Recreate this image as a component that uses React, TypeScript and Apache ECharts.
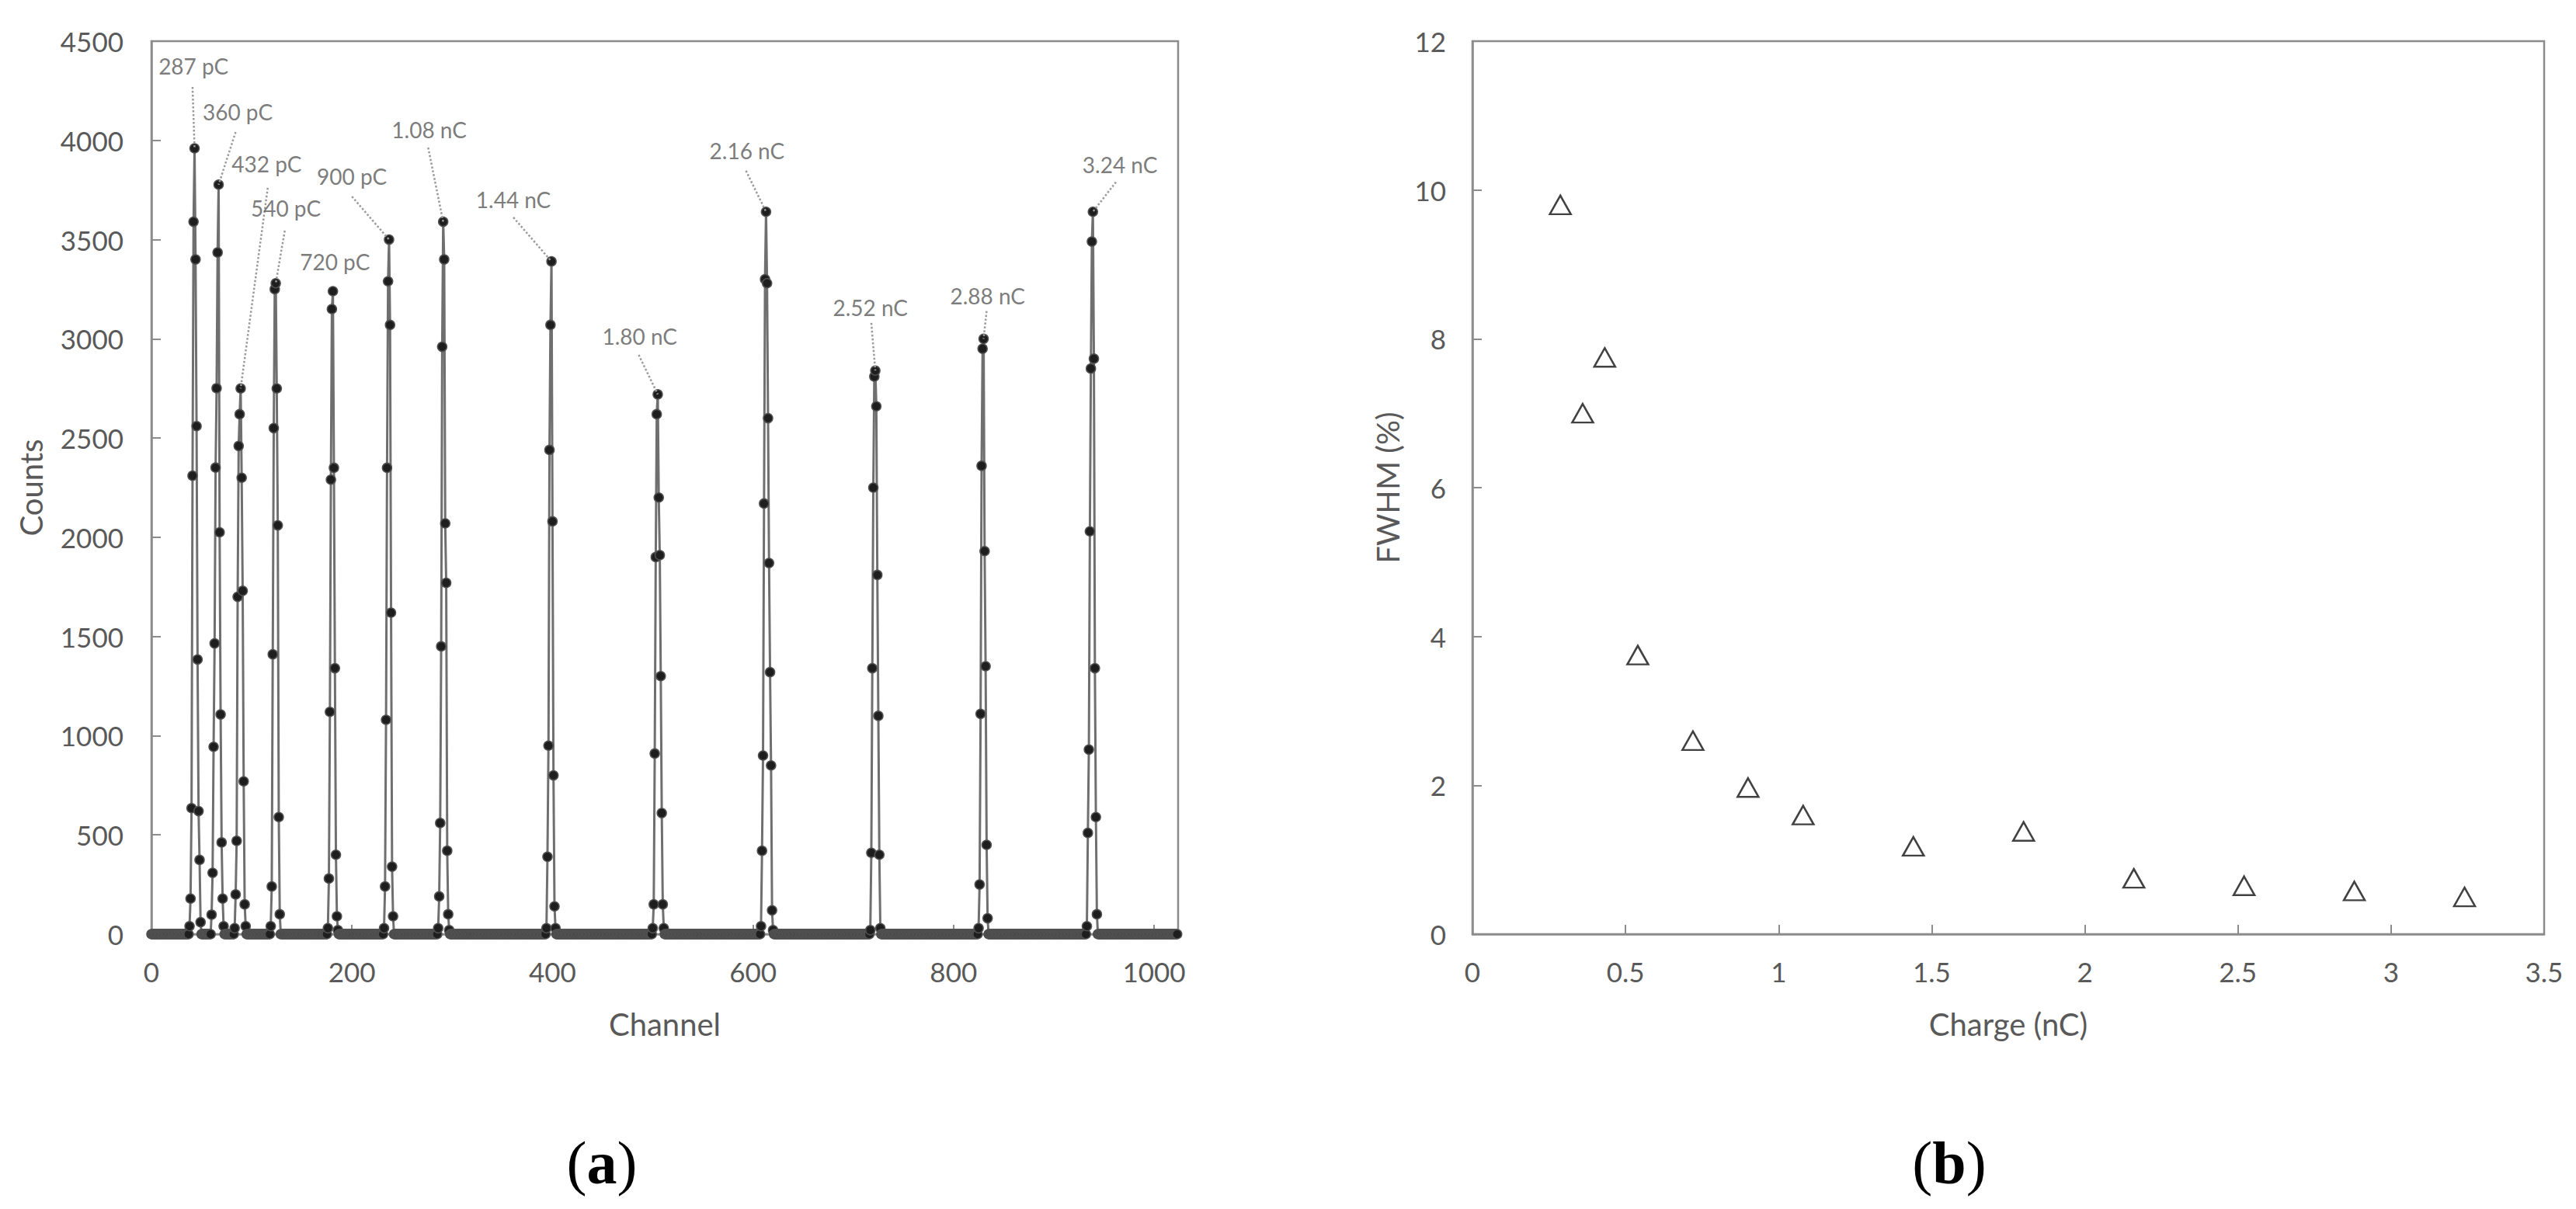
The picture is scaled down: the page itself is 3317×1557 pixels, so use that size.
import React, { useEffect, useRef } from "react";
import * as echarts from "echarts";

// ---------- Panel (a): pulse-height spectrum ----------
const channelCount = 1024; // channels 0..1023, counts 0 outside the peaks
const peakStartChannels = [38, 60, 83, 119, 176, 232, 286, 394, 500, 608, 717, 825, 933];
const peakCounts: number[][] = [
  [40, 179, 635, 2310, 3590, 3960, 3400, 2560, 1384, 620, 374, 60],
  [98, 309, 944, 1465, 2351, 2751, 3435, 3777, 2025, 1107, 462, 179, 40],
  [30, 200, 470, 1700, 2460, 2620, 2750, 2300, 1730, 770, 150, 40],
  [40, 240, 1410, 2550, 3250, 3280, 2750, 2060, 590, 100],
  [30, 280, 1120, 2290, 3150, 3240, 2350, 1340, 400, 90, 20],
  [30, 240, 1080, 2350, 3290, 3500, 3070, 1620, 340, 90],
  [30, 190, 560, 1450, 2960, 3590, 3400, 2070, 1770, 420, 100, 20],
  [30, 390, 950, 2440, 3070, 3390, 2080, 800, 140, 30],
  [30, 150, 910, 1900, 2620, 2720, 2200, 1910, 1300, 610, 150, 30],
  [40, 420, 900, 2170, 3300, 3640, 3280, 2600, 1870, 1320, 850, 120, 20],
  [20, 410, 1340, 2250, 2810, 2840, 2660, 1810, 1100, 400, 30],
  [30, 250, 1110, 2360, 2950, 3000, 1930, 1350, 450, 80],
  [40, 510, 930, 2030, 2850, 3490, 3640, 2900, 1340, 590, 100],
];
const peakLabels = ["287 pC", "360 pC", "432 pC", "540 pC", "720 pC", "900 pC", "1.08 nC", "1.44 nC", "1.80 nC", "2.16 nC", "2.52 nC", "2.88 nC", "3.24 nC"];
// annotation placement (data coordinates: channel, counts)
const labelAnchors = [[42, 4375], [86, 4144], [115, 3882], [134, 3659], [183, 3389], [200, 3819], [277, 4054], [361, 3702], [487, 3013], [594, 3948], [717, 3158], [834, 3217], [966, 3878]];
const leaderStarts: (number[] | null)[] = [[41, 4269], [84, 4042], [116, 3761], [133, 3545], null, [200, 3717], [276, 3964], [361, 3612], [486, 2919], [593, 3847], [718, 3080], [833, 3140], [962, 3790]];

const channelTicks = { min: 0, max: 1024, interval: 200 };
const countTicks = { min: 0, max: 4500, interval: 500 };

// ---------- Panel (b): FWHM vs charge ----------
const chargeNC = [0.287, 0.36, 0.432, 0.54, 0.72, 0.9, 1.08, 1.44, 1.8, 2.16, 2.52, 2.88, 3.24];
const fwhmPercent = [9.8, 7.0, 7.75, 3.75, 2.6, 1.97, 1.6, 1.18, 1.38, 0.75, 0.65, 0.58, 0.5];
const chargeTicks = { min: 0, max: 3.5, interval: 0.5 };
const fwhmTicks = { min: 0, max: 12, interval: 2 };

const FONT = "Lato, 'Open Sans', sans-serif";
const GREY_TEXT = "#595959";
const AXIS_GREY = "#8c8c8c";

function buildSpectrum(): number[][] {
  const counts = new Array(channelCount).fill(0);
  peakStartChannels.forEach((start, i) => {
    peakCounts[i].forEach((v, j) => {
      counts[start + j] = v;
    });
  });
  return counts.map((c, ch) => [ch, c]);
}

function peakTop(i: number): number[] {
  const vals = peakCounts[i];
  let k = 0;
  vals.forEach((v, j) => {
    if (v > vals[k]) k = j;
  });
  return [peakStartChannels[i] + k, vals[k]];
}

function axisCommon(extra: any) {
  return {
    type: "value",
    axisLine: { show: true, onZero: false, lineStyle: { color: AXIS_GREY, width: 2.5 } },
    axisTick: { show: true, inside: true, length: 12, lineStyle: { color: AXIS_GREY, width: 2 } },
    splitLine: { show: false },
    nameLocation: "middle",
    nameTextStyle: { color: GREY_TEXT, fontSize: 40, fontFamily: FONT },
    ...extra,
  };
}

export default function App() {
  const ref = useRef<HTMLDivElement>(null);
  useEffect(() => {
    if (!ref.current) return;
    const chart = echarts.init(ref.current, undefined, { renderer: "svg" });
    const spectrum = buildSpectrum();

    const leaderData = leaderStarts
      .map((s, i) => (s ? [{ coord: s }, { coord: peakTop(i) }] : null))
      .filter((d) => d !== null);

    const labelData = peakLabels.map((name, i) => ({ name, value: labelAnchors[i] }));

    const tickLabel = { color: GREY_TEXT, fontSize: 35, fontFamily: FONT };

    chart.setOption({
      animation: false,
      backgroundColor: "#ffffff",
      grid: [
        { left: 195, top: 53, width: 1322, height: 1150, show: true, borderColor: AXIS_GREY, borderWidth: 2.5, backgroundColor: "transparent" },
        { left: 1896, top: 53, width: 1380, height: 1150, show: true, borderColor: AXIS_GREY, borderWidth: 2.5, backgroundColor: "transparent" },
      ],
      xAxis: [
        axisCommon({
          gridIndex: 0,
          ...channelTicks,
          name: "Channel",
          nameGap: 96,
          axisLabel: { ...tickLabel, margin: 30, showMaxLabel: false, formatter: (v: number) => String(v) },
        }),
        axisCommon({
          gridIndex: 1,
          ...chargeTicks,
          name: "Charge (nC)",
          nameGap: 96,
          axisLabel: { ...tickLabel, margin: 30, formatter: (v: number) => String(v) },
        }),
      ],
      yAxis: [
        axisCommon({
          gridIndex: 0,
          ...countTicks,
          name: "Counts",
          nameGap: 135,
          axisLabel: { ...tickLabel, margin: 36, formatter: (v: number) => String(v) },
        }),
        axisCommon({
          gridIndex: 1,
          ...fwhmTicks,
          name: "FWHM (%)",
          nameGap: 89,
          axisLabel: { ...tickLabel, margin: 34, formatter: (v: number) => String(v) },
        }),
      ],
      series: [
        {
          type: "line",
          xAxisIndex: 0,
          yAxisIndex: 0,
          data: spectrum,
          showSymbol: true,
          showAllSymbol: true,
          symbol: "circle",
          symbolSize: 12,
          lineStyle: { color: "#6f6f6f", width: 3 },
          itemStyle: { color: "#1e1e1e", borderColor: "#505050", borderWidth: 1.5 },
          z: 3,
          markLine: {
            silent: true,
            symbol: ["none", "none"],
            label: { show: false },
            lineStyle: { type: "dotted", color: "#9a9a9a", width: 2.5 },
            data: leaderData,
          },
        },
        {
          type: "scatter",
          xAxisIndex: 0,
          yAxisIndex: 0,
          data: labelData,
          symbolSize: 2,
          itemStyle: { color: "rgba(0,0,0,0)" },
          label: {
            show: true,
            position: "inside",
            formatter: "{b}",
            color: GREY_TEXT,
            fontSize: 28,
            fontFamily: FONT,
          },
          z: 5,
        },
        {
          type: "scatter",
          xAxisIndex: 1,
          yAxisIndex: 1,
          data: chargeNC.map((c, i) => [c, fwhmPercent[i]]),
          symbol: "triangle",
          symbolSize: [27, 24],
          itemStyle: { color: "#ffffff", borderColor: "#111111", borderWidth: 2.5 },
        },
      ],
      graphic: [
        {
          type: "text",
          x: 775,
          y: 1497,
          style: {
            text: "{p|(}{b|a}{p|)}",
            align: "center",
            verticalAlign: "middle",
            rich: {
              p: { fontFamily: "'Liberation Serif', serif", fontSize: 78, fill: "#000" },
              b: { fontFamily: "'Liberation Serif', serif", fontSize: 78, fontWeight: "bold", fill: "#000" },
            },
          },
        },
        {
          type: "text",
          x: 2510,
          y: 1497,
          style: {
            text: "{p|(}{b|b}{p|)}",
            align: "center",
            verticalAlign: "middle",
            rich: {
              p: { fontFamily: "'Liberation Serif', serif", fontSize: 78, fill: "#000" },
              b: { fontFamily: "'Liberation Serif', serif", fontSize: 78, fontWeight: "bold", fill: "#000" },
            },
          },
        },
      ],
    });
    return () => chart.dispose();
  }, []);
  return (
    <div
      ref={ref}
      style={{ position: "fixed", left: 0, top: 0, width: 3317, height: 1557, background: "#fff" }}
    />
  );
}
